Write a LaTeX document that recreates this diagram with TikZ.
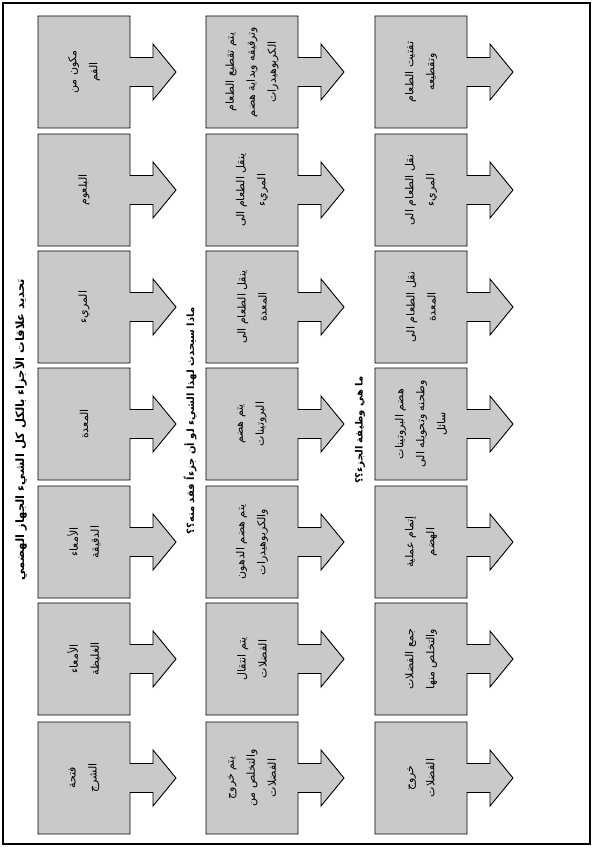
\documentclass[tikz,border=0pt]{standalone}
\usepackage{fontspec}
\newfontfamily\arabicfont[Script=Arabic]{DejaVu Sans}
\TeXXeTstate=1
\newcommand\ar[1]{\beginR #1\endR}
\tikzset{
  calloutshape/.style={draw=black, line width=0.9pt, fill=black!21},
  boxtext/.style={rotate=90, align=center, inner sep=0pt,
    font=\arabicfont\fontsize{11}{21}\selectfont},
  qlabel/.style={rotate=90, inner sep=0pt,
    font=\arabicfont\bfseries\fontsize{10}{12}\selectfont},
  frame/.style={draw=black, line width=1.4pt}
}
\newcommand\mycallout[4]{%
  \draw[calloutshape] (#1,#2) -- ++(92,0) -- ++(0,41.5) -- ++(23,0) -- ++(0,-13.5)
    -- ++(23,28) -- ++(-23,28) -- ++(0,-13.5) -- ++(-23,0) -- ++(0,41.5)
    -- ++(-92,0) -- cycle;
  \node[boxtext] (#3) at ({#1+46},{#2+56}) {#4};
}
\begin{document}
\begin{tikzpicture}[x=1pt,y=-1pt]
\useasboundingbox (0,0) rectangle (592,848);
\draw[frame] (3,3) rectangle (590,844);
% column 1: parts
\mycallout{38}{16}{p1}{\ar{مكون من}\\\ar{الفم}}
\mycallout{38}{134}{p2}{\ar{البلعوم}}
\mycallout{38}{251}{p3}{\ar{المريء}}
\mycallout{38}{368}{p4}{\ar{المعدة}}
\mycallout{38}{486}{p5}{\ar{الأمعاء}\\\ar{الدقيقة}}
\mycallout{38}{603}{p6}{\ar{الأمعاء}\\\ar{الغليظة}}
\mycallout{38}{722}{p7}{\ar{فتحة}\\\ar{الشرج}}
% column 2: what happens if lost
\mycallout{206}{16}{q1}{\ar{يتم تقطيع الطعام}\\\ar{وترقيقه وبداية هضم}\\\ar{الكربوهيدرات}}
\mycallout{206}{134}{q2}{\ar{ينقل الطعام الى}\\\ar{المريء}}
\mycallout{206}{251}{q3}{\ar{ينقل الطعام الى}\\\ar{المعدة}}
\mycallout{206}{368}{q4}{\ar{يتم هضم}\\\ar{البروتينات}}
\mycallout{206}{486}{q5}{\ar{يتم هضم الدهون}\\\ar{والكربوهيدرات}}
\mycallout{206}{603}{q6}{\ar{يتم انتقال}\\\ar{الفضلات}}
\mycallout{206}{722}{q7}{\ar{يتم خروج}\\\ar{والتخلص من}\\\ar{الفضلات}}
% column 3: function
\mycallout{375}{16}{f1}{\ar{تفتيت الطعام}\\\ar{وتقطيعه}}
\mycallout{375}{134}{f2}{\ar{نقل الطعام الى}\\\ar{المريء}}
\mycallout{375}{251}{f3}{\ar{نقل الطعام الى}\\\ar{المعدة}}
\mycallout{375}{368}{f4}{\ar{هضم البروتينات}\\\ar{وطحنه وتحويله الى}\\\ar{سائل}}
\mycallout{375}{486}{f5}{\ar{إتمام عملية}\\\ar{الهضم}}
\mycallout{375}{603}{f6}{\ar{جمع الفضلات}\\\ar{والتخلص منها}}
\mycallout{375}{722}{f7}{\ar{خروج}\\\ar{الفضلات}}
% labels
\node[qlabel, font=\arabicfont\bfseries\fontsize{11.5}{13}\selectfont] (title) at (20,430) {\ar{تحديد علاقات الأجزاء بالكل كل الشيء الجهاز الهضمي}};
\node[qlabel] (lost) at (190,421) {\ar{ماذا سيحدث لهذا الشيء لو أن جزءاً فقد منه؟؟}};
\node[qlabel] (func) at (360,430) {\ar{ما هي وظيفة الجزء؟؟}};
\end{tikzpicture}
\end{document}
